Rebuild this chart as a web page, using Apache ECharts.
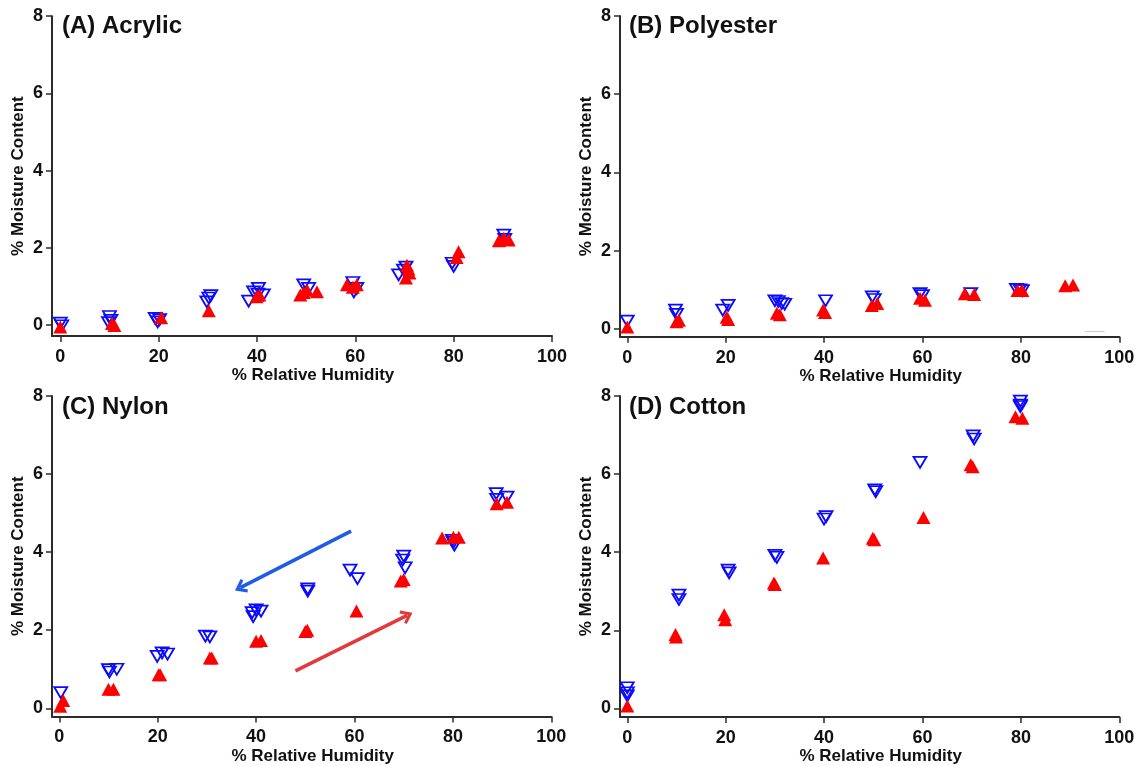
<!DOCTYPE html>
<html>
<head>
<meta charset="utf-8">
<script src="https://cdn.jsdelivr.net/npm/echarts@6/dist/echarts.min.js"></script>
<style>
html,body{margin:0;padding:0;background:#fff;}
#chart{width:1139px;height:766px;}
</style>
</head>
<body>
<div id="chart"></div>
<script>
// ---- data (x = % relative humidity, y = % moisture content) ----
const xTicks = [0, 20, 40, 60, 80, 100];
const yTicks = [0, 2, 4, 6, 8];
const panelTitles = ['(A) Acrylic', '(B) Polyester', '(C) Nylon', '(D) Cotton'];
const xTitle = '% Relative Humidity';
const yTitle = '% Moisture Content';

const acrylicDesorption = [[0,0.05],[0.3,-0.02],[10,0.22],[10.3,0.12],[9.8,0.06],[19.3,0.17],[19.8,0.08],[20.2,0.14],[30.6,0.76],[30.2,0.7],[29.8,0.6],[40.3,0.95],[39.3,0.86],[38.3,0.62],[41.3,0.78],[40.2,0.8],[49.5,1.04],[50.5,0.95],[59.7,0.86],[59.5,1.1],[60.3,0.95],[68.8,1.3],[69.8,1.42],[70.3,1.5],[79.7,1.6],[80,1.52],[90.2,2.33],[90.4,2.22]];
const acrylicAdsorption = [[0,-0.05],[10.5,0.04],[11,-0.01],[20.5,0.19],[30.2,0.37],[39.9,0.73],[40.5,0.78],[48.8,0.78],[50.2,0.9],[52.2,0.86],[49.5,0.84],[58.3,1.04],[60.3,1.04],[59.5,0.98],[70.5,1.55],[70.8,1.45],[70.3,1.22],[71,1.35],[81,1.9],[80.6,1.75],[89.2,2.18],[91.2,2.2],[90.2,2.25]];

const polyesterDesorption = [[0,0.2],[9.8,0.48],[10,0.37],[19.4,0.48],[20.5,0.6],[30,0.72],[30.7,0.7],[31.4,0.65],[32,0.63],[40.3,0.72],[49.8,0.82],[50.2,0.75],[59.5,0.9],[60,0.85],[69.8,0.9],[79.1,1.01],[79.8,1.0],[80.3,0.98]];
const polyesterAdsorption = [[0,0.05],[10,0.18],[10.5,0.22],[20.5,0.24],[20.2,0.3],[30.4,0.4],[31,0.36],[39.8,0.48],[40.2,0.42],[49.7,0.6],[50.8,0.65],[59.5,0.78],[60.5,0.73],[68.6,0.9],[70.5,0.88],[79.3,0.98],[80.3,0.98],[89,1.1],[90.6,1.12]];

const nylonDesorption = [[0.3,0.4],[10,0.99],[11.7,1.0],[10.2,0.93],[19.9,1.33],[20.9,1.42],[22,1.39],[29.7,1.85],[30.6,1.83],[39.2,2.45],[40,2.52],[41,2.49],[39.4,2.35],[50.5,3.0],[50.5,3.06],[59.1,3.54],[60.6,3.32],[70,3.9],[69.8,3.8],[70.3,3.6],[80.1,4.25],[80.3,4.18],[79.9,4.3],[88.8,5.5],[91,5.41],[88.9,5.35]];
const nylonAdsorption = [[0.2,0.05],[0.8,0.2],[10,0.49],[11,0.49],[20.2,0.86],[20.5,0.86],[30.6,1.29],[31,1.29],[40,1.72],[41,1.74],[50,1.97],[50.4,2.0],[60.4,2.49],[69.4,3.26],[70,3.3],[77.8,4.36],[80.1,4.38],[81.2,4.38],[88.9,5.24],[91,5.28]];

const cottonDesorption = [[0,0.53],[0,0.4],[0,0.32],[10.5,2.9],[10.5,2.79],[20.5,3.54],[20.7,3.47],[30,3.92],[30.4,3.87],[40.4,4.91],[40,4.85],[50.3,5.6],[50.5,5.55],[59.5,6.3],[70.3,6.98],[70.5,6.9],[79.9,7.87],[79.9,7.77],[79.9,7.73]];
const cottonAdsorption = [[0,0.06],[9.9,1.83],[9.8,1.89],[19.7,2.4],[19.9,2.27],[29.8,3.21],[30,3.17],[39.8,3.85],[49.9,4.36],[50.2,4.32],[60.2,4.89],[69.8,6.24],[70.2,6.19],[78.9,7.47],[80.3,7.43]];

// annotation arrows on the nylon panel (data coordinates: start -> end)
const nylonDesorptionArrow = [[59.3, 4.54], [36.8, 3.09]];
const nylonAdsorptionArrow = [[48.0, 0.96], [70.7, 2.38]];
// faint stray segment in polyester panel
const polyesterStray = [[93, -0.06], [97, -0.06]];

// ---- layout ----
const FONT = '"Liberation Sans", Arial, sans-serif';
const AXIS_COLOR = '#2b2b2b';
const BLUE = '#0a0aff';
const RED = '#ff0000';
const chevron = 'path://M5,0 L10,7 L8.4,8.3 L5,3.6 L1.6,8.3 L0,7 Z';

const panels = [
  {left: 52, top: 16.2, width: 500, height: 319.8, xmin: -1.69, ymin: -0.285, des: acrylicDesorption, ads: acrylicAdsorption},
  {left: 620, top: 16, width: 499.3, height: 320.7, xmin: -1.48, ymin: -0.2, des: polyesterDesorption, ads: polyesterAdsorption},
  {left: 52, top: 396, width: 499.3, height: 320.5, xmin: -1.48, ymin: -0.21, des: nylonDesorption, ads: nylonAdsorption},
  {left: 620, top: 396, width: 499.3, height: 321, xmin: -1.48, ymin: -0.22, des: cottonDesorption, ads: cottonAdsorption}
];
const titlePos = [[57, 9], [624, 9], [57, 390], [624, 390]];

const grid = [], xAxis = [], yAxis = [], series = [], title = [];

panels.forEach((p, i) => {
  grid.push({left: p.left, top: p.top, width: p.width, height: p.height, containLabel: false, outerBoundsMode: 'none'});
  title.push({text: panelTitles[i], left: titlePos[i][0], top: titlePos[i][1],
    textStyle: {fontFamily: FONT, fontWeight: 'bold', fontSize: 24, color: '#111'}});
  xAxis.push({
    type: 'value', gridIndex: i, min: p.xmin, max: 100,
    name: xTitle, nameLocation: 'middle', nameGap: 30,
    nameTextStyle: {fontFamily: FONT, fontWeight: 'bold', fontSize: 17, color: '#111', padding: [0, 0, 0, 22]},
    axisLine: {show: true, onZero: false, lineStyle: {color: AXIS_COLOR, width: 2}},
    axisTick: {show: true, inside: false, length: 6, lineStyle: {color: AXIS_COLOR, width: 1.5}, customValues: xTicks},
    axisLabel: {show: true, margin: 12, fontFamily: FONT, fontWeight: 'bold', fontSize: 18, color: '#111', customValues: xTicks},
    splitLine: {show: false}
  });
  yAxis.push({
    type: 'value', gridIndex: i, min: p.ymin, max: 8,
    name: yTitle, nameLocation: 'middle', nameGap: 25,
    nameTextStyle: {fontFamily: FONT, fontWeight: 'bold', fontSize: 17, color: '#111'},
    axisLine: {show: true, onZero: false, lineStyle: {color: AXIS_COLOR, width: 2}},
    axisTick: {show: true, inside: false, length: 6, lineStyle: {color: AXIS_COLOR, width: 1.5}, customValues: yTicks},
    axisLabel: {show: true, margin: 9, fontFamily: FONT, fontWeight: 'bold', fontSize: 18, color: '#111', customValues: yTicks},
    splitLine: {show: false}
  });
  const desSeries = {
    type: 'scatter', xAxisIndex: i, yAxisIndex: i, data: p.des,
    symbol: 'triangle', symbolRotate: 180, symbolSize: [13, 11],
    itemStyle: {color: 'rgba(0,0,0,0)', borderColor: BLUE, borderWidth: 1.8, opacity: 1},
    z: 2, silent: true
  };
  const adsSeries = {
    type: 'scatter', xAxisIndex: i, yAxisIndex: i, data: p.ads,
    symbol: 'triangle', symbolSize: [14, 13],
    itemStyle: {color: RED, opacity: 1},
    z: 3, silent: true
  };
  if (i === 2) {
    desSeries.markLine = {
      silent: true, symbol: ['none', chevron], symbolSize: [15, 12], label: {show: false},
      lineStyle: {color: '#1f5be6', width: 3.5, type: 'solid'},
      data: [[{coord: nylonDesorptionArrow[0]}, {coord: nylonDesorptionArrow[1]}]]
    };
    adsSeries.markLine = {
      silent: true, symbol: ['none', chevron], symbolSize: [15, 12], label: {show: false},
      lineStyle: {color: '#e23a3a', width: 3.5, type: 'solid'},
      data: [[{coord: nylonAdsorptionArrow[0]}, {coord: nylonAdsorptionArrow[1]}]]
    };
  }
  if (i === 1) {
    adsSeries.markLine = {
      silent: true, symbol: ['none', 'none'], label: {show: false},
      lineStyle: {color: '#cfcfcf', width: 1.2, type: 'solid'},
      data: [[{coord: polyesterStray[0]}, {coord: polyesterStray[1]}]]
    };
  }
  series.push(desSeries, adsSeries);
});

const chart = echarts.init(document.getElementById('chart'), null, {renderer: 'canvas'});
chart.setOption({
  animation: false,
  backgroundColor: '#ffffff',
  title, grid, xAxis, yAxis, series,
  tooltip: {show: false}
});
</script>
</body>
</html>
